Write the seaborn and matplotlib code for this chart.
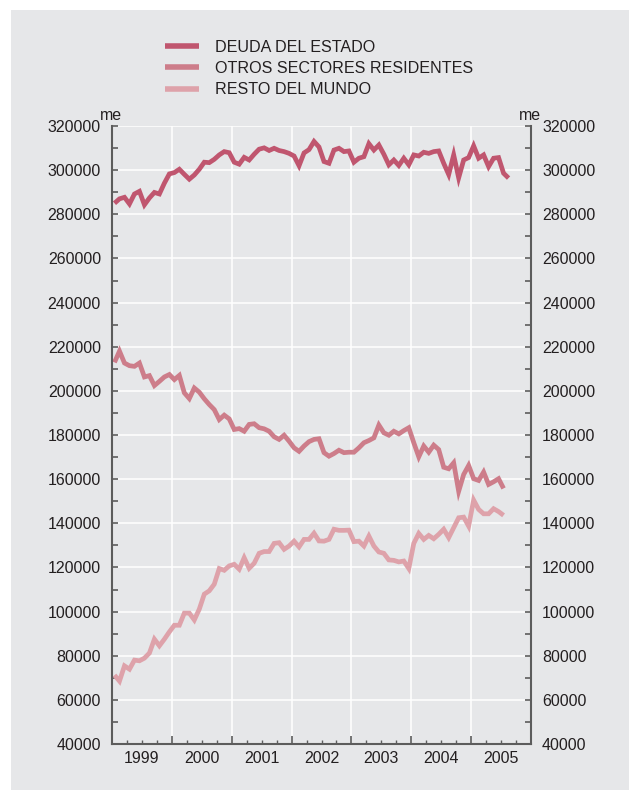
import numpy as np
import pandas as pd
import matplotlib
matplotlib.use("Agg")
import matplotlib.pyplot as plt
from matplotlib.patches import Rectangle
from matplotlib.ticker import MultipleLocator, StrMethodFormatter
from matplotlib.transforms import offset_copy
import seaborn as sns

# Monthly series, January 1999 onwards (millions of euros)
deuda_estado = [
    285000, 287000, 287700, 284700, 289200, 290400, 284300, 287400, 289900, 289200,
    294100, 298300, 298900, 300400, 298100, 295900, 297800, 300400, 303600, 303400,
    304900, 306900, 308400, 307900, 303600, 302700, 305800, 304600, 307200, 309500,
    310100, 308900, 309900, 308900, 308400, 307600, 306400, 302000, 307800, 309300,
    313000, 310500, 303900, 303100, 309100, 309900, 308400, 308700, 303600, 305400,
    306100, 312000, 309100, 311400, 307200, 302400, 304600, 302100, 305400, 302400,
    306900, 306400, 308100, 307600, 308400, 308700, 303100, 298000, 306900, 296500,
    304600, 305700, 311000, 305400, 306900, 301600, 305400, 305700, 298600, 296400,
]
otros_sectores = [
    212900, 218000, 212600, 211400, 211100, 212600, 206300, 206900, 202400, 204300,
    206300, 207400, 205100, 207000, 199100, 196500, 201300, 199400, 196400, 193800,
    191500, 187000, 189000, 187300, 182500, 182900, 181700, 184800, 185100, 183300,
    182800, 181700, 179200, 178000, 179900, 177200, 174200, 172600, 175000, 177000,
    178000, 178300, 172000, 170400, 171600, 173100, 172000, 172200, 172200, 174200,
    176500, 177500, 178700, 184500, 181000, 179900, 181700, 180500, 182000, 183300,
    176500, 170100, 175000, 172200, 175400, 173400, 165400, 164700, 167400, 154500,
    162100, 166200, 160200, 159400, 163200, 157600, 158800, 160200, 155800,
]
resto_mundo = [
    71200, 68500, 75400, 73900, 78000, 77700, 78900, 81200, 87500, 84500,
    87500, 90800, 93800, 93800, 99300, 99300, 96200, 101100, 107900, 109400,
    112400, 119500, 118700, 120700, 121400, 119200, 124400, 119600, 121900, 126400,
    127200, 127200, 130900, 131200, 128200, 129700, 131900, 129300, 132700, 132700,
    135500, 132000, 131900, 132700, 137300, 136800, 136800, 136900, 131700, 131900,
    129700, 134200, 129700, 127000, 126400, 123400, 123200, 122500, 122900, 119500,
    130900, 135400, 132700, 134500, 133000, 135000, 137300, 133500, 138000, 142500,
    142800, 138700, 150500, 146300, 144300, 144300, 146600, 145300, 143600,
]

series_names = ["DEUDA DEL ESTADO", "OTROS SECTORES RESIDENTES", "RESTO DEL MUNDO"]
series_values = [deuda_estado, otros_sectores, resto_mundo]
series_colors = ["#c0566f", "#cd7d8a", "#dea2aa"]
years = [1999, 2000, 2001, 2002, 2003, 2004, 2005]
y_ticks = list(range(40000, 320001, 20000))

frames = []
for name, vals in zip(series_names, series_values):
    t = 1999 + (np.arange(len(vals)) + 0.5) / 12.0
    frames.append(pd.DataFrame({"fecha": t, "valor": vals, "serie": name}))
df = pd.concat(frames, ignore_index=True)

bg = "#e6e7e9"
ink = "#231f20"
spine_col = "#5c5c5c"
fs = 11.5

sns.set_style("white")
plt.rcParams["font.family"] = ["Liberation Sans", "DejaVu Sans"]

fig = plt.figure(figsize=(6.29, 7.96), dpi=100)
fig.patch.set_facecolor("white")
fig.patches.append(Rectangle((11 / 629, 1 - 790 / 796), 618 / 629, 780 / 796,
                             transform=fig.transFigure, facecolor=bg,
                             edgecolor="none", zorder=-10))

ax = fig.add_axes([112 / 629, 1 - 744 / 796, 419 / 629, (744 - 126) / 796])
ax.set_facecolor(bg)

sns.lineplot(data=df, x="fecha", y="valor", hue="serie", hue_order=series_names,
             palette=dict(zip(series_names, series_colors)), sort=False,
             linewidth=3.4, ax=ax, legend=True)
for ln in ax.get_lines():
    ln.set_solid_joinstyle("miter")
    ln.set_solid_capstyle("butt")

handles, labels = ax.get_legend_handles_labels()
ax.get_legend().remove()
leg = fig.legend(handles, labels, loc="upper left",
                 bbox_to_anchor=(165 / 629, 1 - 40 / 796), frameon=False,
                 fontsize=11.6, handlelength=2.1, handletextpad=1.0,
                 labelspacing=0.38, borderpad=0, borderaxespad=0)
for txt in leg.get_texts():
    txt.set_color(ink)
for h in leg.get_lines():
    h.set_linewidth(4)

ax.set_xlim(1999, 2006)
ax.set_ylim(40000, 320000)
ax.set_xlabel("")
ax.set_ylabel("")

# y axis: labelled ticks every 20000, unlabelled every 10000, both sides, inward
ax.set_yticks(y_ticks)
ax.yaxis.set_major_formatter(StrMethodFormatter("{x:.0f}"))
ax.yaxis.set_minor_locator(MultipleLocator(10000))
ax.tick_params(axis="y", which="both", direction="in", length=4, width=1.2,
               color=spine_col, left=True, right=True, labelleft=True,
               labelright=True, labelsize=fs, labelcolor=ink, pad=8)

# x axis: year boundaries as major ticks, quarters as minor ticks
ax.set_xticks(list(range(1999, 2007)))
ax.set_xticklabels([])
ax.xaxis.set_minor_locator(MultipleLocator(0.25))
ax.tick_params(axis="x", which="major", direction="in", length=6, width=1.2,
               color=spine_col, bottom=True)
ax.tick_params(axis="x", which="minor", direction="in", length=3, width=1.0,
               color=spine_col, bottom=True)

sec = ax.secondary_xaxis("bottom")
sec.set_xticks([y + 0.5 for y in years], labels=[str(y) for y in years])
sec.tick_params(length=0, pad=5, labelsize=fs, labelcolor=ink)
sec.spines["bottom"].set_visible(False)

ax.grid(True, which="major", color="white", linewidth=1.1)
ax.set_axisbelow(True)

ax.spines["top"].set_visible(False)
for s in ["left", "right", "bottom"]:
    ax.spines[s].set_visible(True)
    ax.spines[s].set_color(spine_col)
    ax.spines[s].set_linewidth(1.5)

# unit labels above both vertical axes
unit_tr = offset_copy(ax.transAxes, fig=fig, x=-1, y=3, units="dots")
ax.text(0, 1, "me", transform=unit_tr, ha="center", va="bottom",
        fontsize=fs, color=ink)
ax.text(1, 1, "me", transform=unit_tr, ha="center", va="bottom",
        fontsize=fs, color=ink)

fig.savefig("out.png", dpi=100, facecolor="white")
